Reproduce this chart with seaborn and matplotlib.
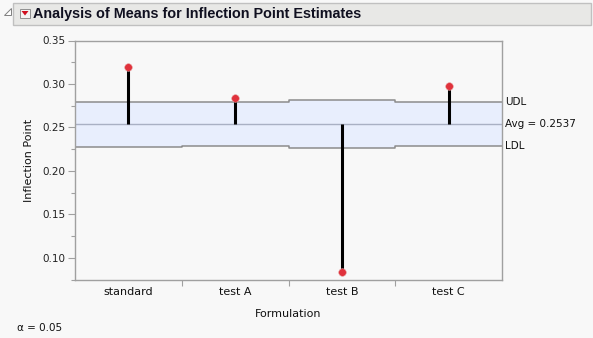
import matplotlib
matplotlib.use("Agg")
import matplotlib.pyplot as plt
import seaborn as sns
import numpy as np
import pandas as pd
from matplotlib.patches import Rectangle, Polygon

categories = ["standard", "test A", "test B", "test C"]
means = [0.320, 0.284, 0.0834, 0.2978]
half_width = [0.0258, 0.0253, 0.0278, 0.0252]
avg = 0.2537
yticks = [0.10, 0.15, 0.20, 0.25, 0.30, 0.35]
yminor = [0.075, 0.125, 0.175, 0.225, 0.275, 0.325]

sns.set_theme(style="white")
plt.rcParams['font.family'] = ['DejaVu Sans']

bg = "#f8f8f8"
fig = plt.figure(figsize=(5.93, 3.38), dpi=100, facecolor=bg)
ax = fig.add_axes([75/593, 1-280/338, 427/593, 239.5/338])
ax.set_facecolor(bg)

df = pd.DataFrame({"Formulation": categories, "Mean": means})
x = np.arange(len(categories))
udl = [avg + h for h in half_width]
ldl = [avg - h for h in half_width]

# band
edges = np.arange(len(categories) + 1) - 0.5
xs = np.repeat(edges, 2)[1:-1]
u_s = np.repeat(udl, 2)
l_s = np.repeat(ldl, 2)
ax.fill_between(xs, l_s, u_s, color="#e8eefd", zorder=1, lw=0)
ax.plot(xs, u_s, color="#8c8c8c", lw=1.1, zorder=2)
ax.plot(xs, l_s, color="#8c8c8c", lw=1.1, zorder=2)
ax.axhline(avg, color="#a9b0c4", lw=1.0, zorder=2)

# needles
ax.vlines(x, avg, means, color="black", lw=2.2, zorder=3)
sns.scatterplot(data=df, x=x, y="Mean", color="#e0323c", s=30, edgecolor="#e8a0a0",
                linewidth=0.4, zorder=4, ax=ax, legend=False)

ax.set_xlim(-0.5, len(categories) - 0.5)
ax.set_ylim(0.0745, 0.3489)
ax.set_yticks(yticks)
ax.set_yticklabels([f"{t:.2f}" for t in yticks])
ax.set_yticks(yminor, minor=True)
ax.set_xticks(x)
ax.set_xticklabels(categories)
ax.set_xticks(edges[1:-1], minor=True)

ax.tick_params(axis="y", which="major", direction="out", length=5, width=0.8,
               color="#a0a0a0", labelsize=7.5, labelcolor="#222222", pad=2, left=True)
ax.tick_params(axis="y", which="minor", direction="out", length=3, width=0.8,
               color="#a0a0a0", left=True)
ax.tick_params(axis="x", which="major", length=0, labelsize=8, labelcolor="#111111", pad=5)
ax.tick_params(axis="x", which="minor", direction="out", length=4, width=0.8,
               color="#a0a0a0", bottom=True, top=False)

for s in ax.spines.values():
    s.set_color("#a0a0a0")
    s.set_linewidth(1.0)

ax.set_ylabel("Inflection Point", fontsize=8, color="#111111", labelpad=6)
ax.set_xlabel("Formulation", fontsize=8, color="#111111", labelpad=9)

# right labels
trans = ax.get_yaxis_transform()
ax.text(1.008, udl[-1], "UDL", transform=trans, va="center", ha="left", fontsize=7.5, color="#111111")
ax.text(1.008, avg, "Avg = 0.2537", transform=trans, va="center", ha="left", fontsize=7.5, color="#111111")
ax.text(1.008, ldl[-1], "LDL", transform=trans, va="center", ha="left", fontsize=7.5, color="#111111")

# header bar
fig.patches.append(Rectangle((13/593, 1-25/338), 578/593, 22/338, transform=fig.transFigure,
                             facecolor="#e8e8e6", edgecolor="#c0c0c0", lw=1.0))
# disclosure triangle
fig.patches.append(Polygon([(4/593, 1-15/338), (11/593, 1-15/338), (11/593, 1-8/338)],
                           closed=True, transform=fig.transFigure, facecolor="white",
                           edgecolor="#808080", lw=0.7))
# red dropdown icon
fig.patches.append(Rectangle((20/593, 1-18/338), 10/593, 9.5/338, transform=fig.transFigure,
                             facecolor="#f4f4f4", edgecolor="#909090", lw=0.7))
fig.patches.append(Polygon([(21.5/593, 1-11/338), (28.5/593, 1-11/338), (25/593, 1-15.5/338)],
                           closed=True, transform=fig.transFigure, facecolor="#d01020",
                           edgecolor="none"))
fig.text(33/593, 1-14/338, "Analysis of Means for Inflection Point Estimates",
         fontsize=10.4, fontweight="bold", color="#101020", va="center", ha="left",
         family=["Liberation Sans"])

fig.text(17/593, 1-328/338, "α = 0.05", fontsize=7.5, color="#111111", va="center", ha="left")

fig.savefig("out.png", dpi=100, facecolor=bg)
